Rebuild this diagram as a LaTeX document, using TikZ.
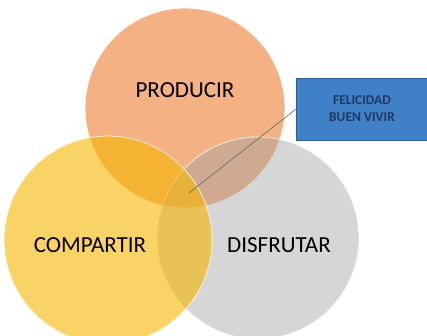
\documentclass[tikz,border=0pt]{standalone}
\usepackage{fontspec}
\setmainfont{Carlito}
\usepackage{tikz,xcolor}
\usetikzlibrary{positioning}

\definecolor{producir}{HTML}{F4B183}
\definecolor{compartir}{HTML}{F7B500}
\definecolor{disfrutar}{HTML}{A1A1A1}
\definecolor{cajaazul}{HTML}{3F80C8}
\definecolor{bordeazul}{HTML}{2E5E98}
\definecolor{textoazul}{HTML}{1F3864}

\begin{document}
\begin{tikzpicture}[x=1pt, y=-1pt,
	etiqueta/.style={font=\fontsize{23}{26}\selectfont, text=black}]

	\useasboundingbox (0,0) rectangle (427,336);

	% circles
	\fill[producir] (185,108) circle (100);
	\draw[white, line width=0.8pt] (185,108) circle (100);
	\fill[disfrutar, fill opacity=0.44] (258,238) circle (101);
	\draw[white, line width=0.8pt, draw opacity=0.8] (258,238) circle (101);
	\fill[compartir, fill opacity=0.6] (108,240) circle (104);
	\draw[white, line width=0.8pt, draw opacity=0.8] (108,240) circle (104);

	% labels
	\node[etiqueta] (prod) at (185,90) {PRODUCIR};
	\node[etiqueta] (comp) at (90,245) {COMPARTIR};
	\node[etiqueta] (disf) at (279,245) {DISFRUTAR};

	% box
	\node[draw=bordeazul, fill=cajaazul, line width=0.8pt, minimum width=131, minimum height=62,
		align=center, font=\fontsize{13.5}{17}\selectfont\bfseries, text=textoazul] (fel) at (362,109)
		{FELICIDAD\\BUEN VIVIR};
	\coordinate (centro) at (189,193);
	\draw[black!60, line width=0.6pt] (fel.west) -- (centro);

\end{tikzpicture}
\end{document}
